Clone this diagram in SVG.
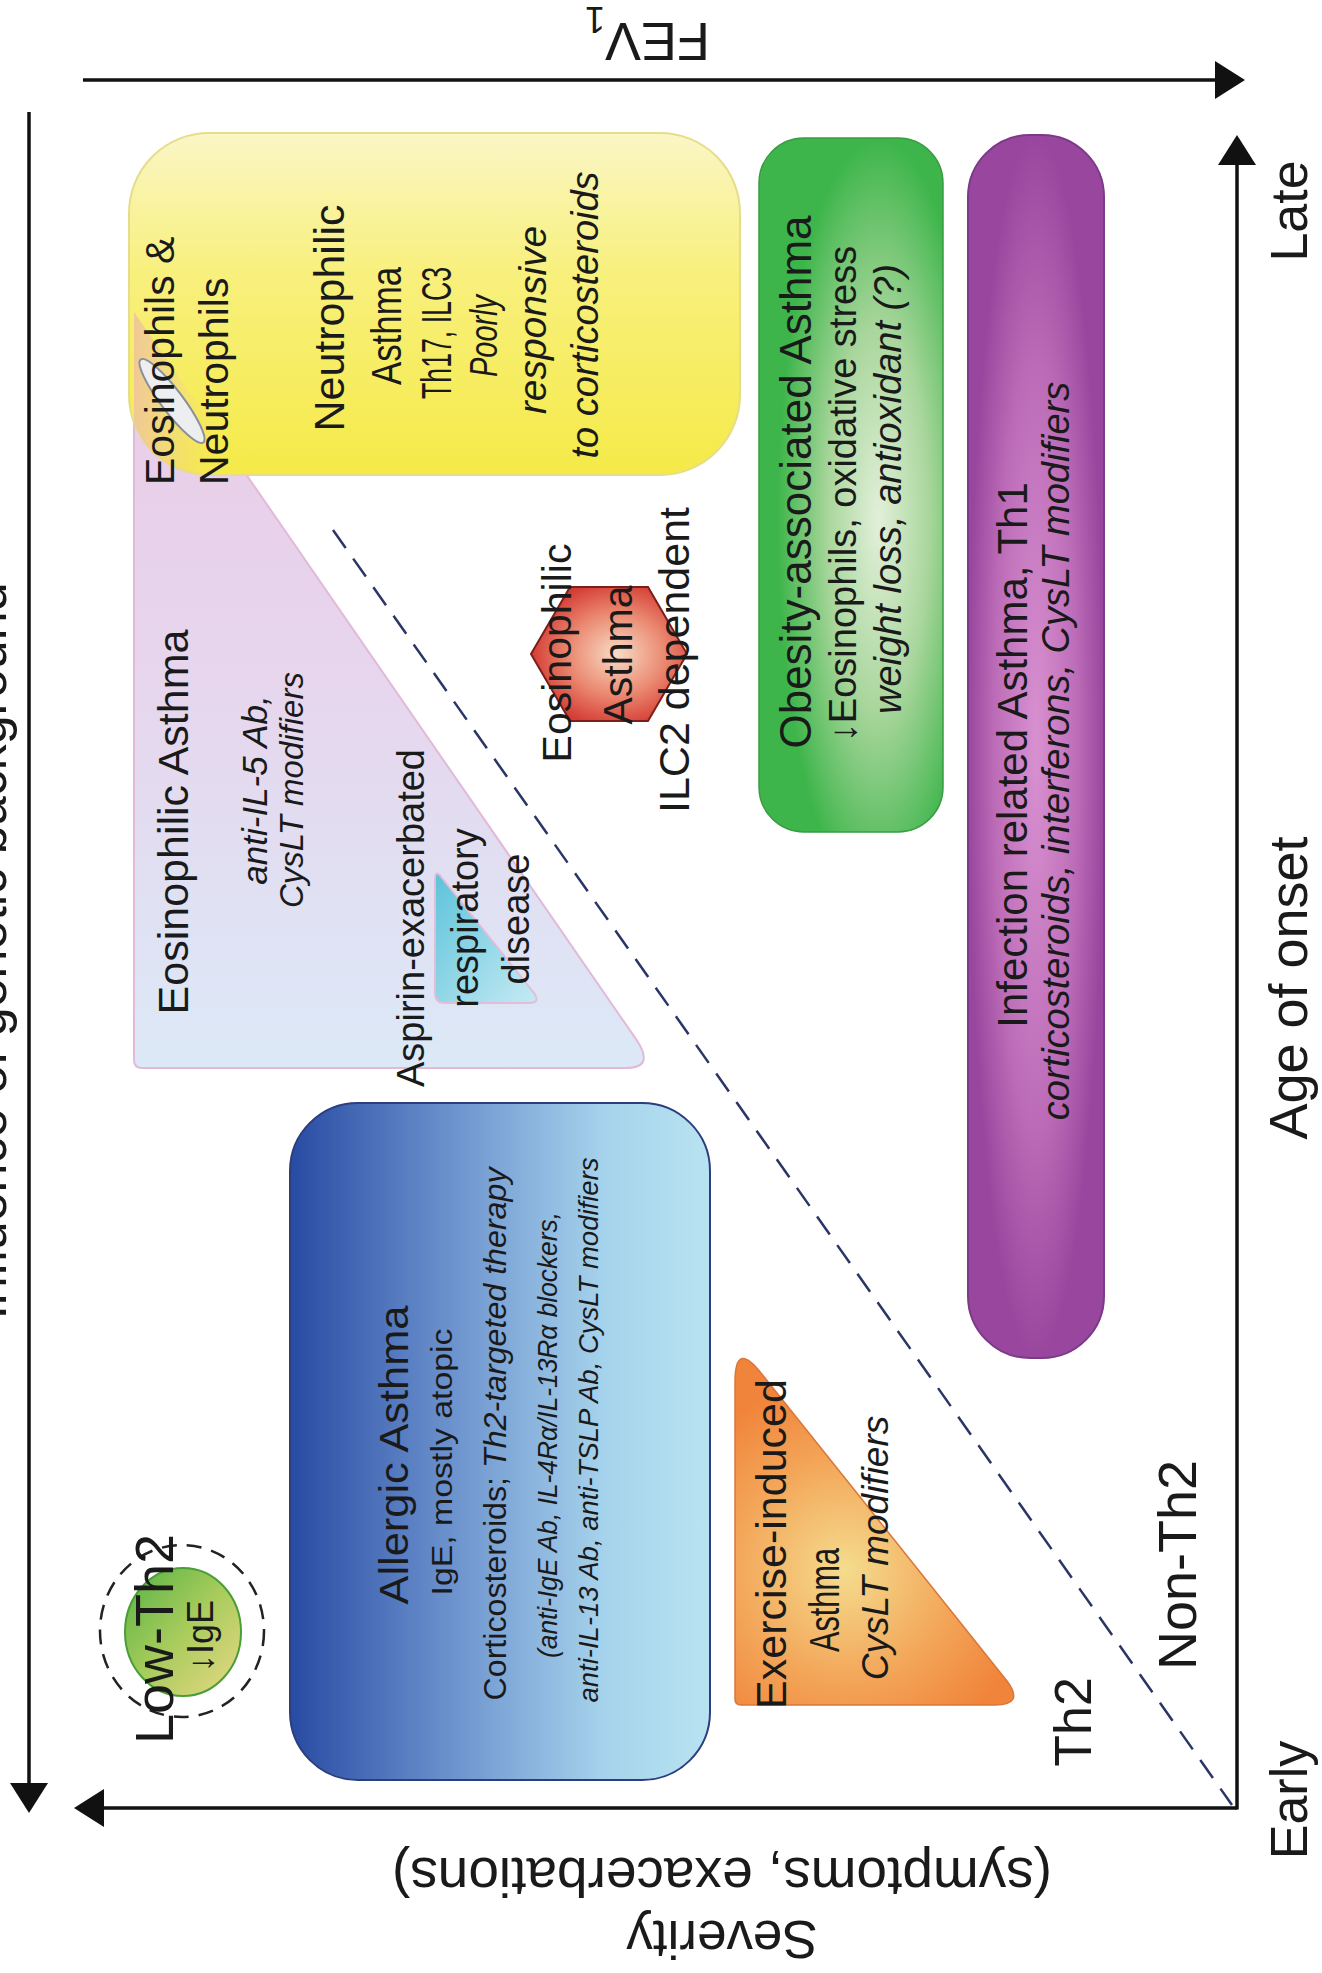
<svg xmlns="http://www.w3.org/2000/svg" width="1322" height="1973" viewBox="0 0 1322 1973">
<style>
text{font-family:"Liberation Sans",Arial,Helvetica,sans-serif;fill:#1a1a1a;text-anchor:middle}
.i{font-style:italic}
.ax{stroke:#111;stroke-width:3.5;fill:none}
</style>
<defs>
<marker id="ah" markerUnits="userSpaceOnUse" markerWidth="30" markerHeight="38" viewBox="0 0 30 38" refX="24" refY="19" orient="auto">
<path d="M0,0 L30,19 L0,38 Z" fill="#111"/>
</marker>
<linearGradient id="gYel" x1="0" y1="0" x2="0" y2="1">
<stop offset="0" stop-color="#faf6c6"/><stop offset="0.4" stop-color="#f8f07e"/><stop offset="1" stop-color="#f5ea48"/>
</linearGradient>
<linearGradient id="gPink" x1="0" y1="0" x2="0" y2="1">
<stop offset="0" stop-color="#ebcbe6"/><stop offset="0.5" stop-color="#e6d6ee"/><stop offset="1" stop-color="#dce9f7"/>
</linearGradient>
<linearGradient id="gPeach" gradientUnits="userSpaceOnUse" x1="131" y1="0" x2="215" y2="0">
<stop offset="0" stop-color="#efc49c" stop-opacity="0.95"/><stop offset="1" stop-color="#f3d88c" stop-opacity="0"/>
</linearGradient>
<linearGradient id="gCyan" x1="0" y1="0" x2="1" y2="1">
<stop offset="0" stop-color="#5cc3da"/><stop offset="1" stop-color="#c6eaf4"/>
</linearGradient>
<linearGradient id="gBlue" x1="0" y1="0" x2="1" y2="0">
<stop offset="0" stop-color="#284ba3"/><stop offset="0.4" stop-color="#6f95cf"/><stop offset="0.75" stop-color="#a6d3ec"/><stop offset="1" stop-color="#b8e3f1"/>
</linearGradient>
<radialGradient id="gGreen" cx="0.65" cy="0.55" r="0.55">
<stop offset="0" stop-color="#e2f0da"/><stop offset="0.5" stop-color="#a9d69c"/><stop offset="1" stop-color="#3db54a"/>
</radialGradient>
<radialGradient id="gPurp" cx="0.5" cy="0.5" r="0.5">
<stop offset="0" stop-color="#d891d0"/><stop offset="0.6" stop-color="#bd6db8"/><stop offset="1" stop-color="#99469e"/>
</radialGradient>
<radialGradient id="gHex" cx="0.55" cy="0.5" r="0.55">
<stop offset="0" stop-color="#f8dcc6"/><stop offset="0.55" stop-color="#eb8a72"/><stop offset="1" stop-color="#d43c35"/>
</radialGradient>
<radialGradient id="gOr" gradientUnits="userSpaceOnUse" cx="845" cy="1570" r="190">
<stop offset="0" stop-color="#f5dc8e"/><stop offset="0.6" stop-color="#f3a457"/><stop offset="1" stop-color="#f0843a"/>
</radialGradient>
<linearGradient id="gLow" x1="0" y1="0" x2="1" y2="1">
<stop offset="0" stop-color="#55b244"/><stop offset="0.5" stop-color="#a8cc5c"/><stop offset="1" stop-color="#ead886"/>
</linearGradient>
<clipPath id="clipYel"><rect x="129" y="133" width="611" height="342" rx="80"/></clipPath>
</defs>

<rect width="1322" height="1973" fill="#fff"/>

<g id="axes">
<line class="ax" x1="83" y1="80" x2="1239" y2="80" marker-end="url(#ah)"/>
<line class="ax" x1="29" y1="112" x2="29" y2="1807" marker-end="url(#ah)"/>
<line class="ax" x1="1237" y1="1808" x2="80" y2="1808" marker-end="url(#ah)"/>
<line class="ax" x1="1237" y1="1809.5" x2="1237" y2="141" marker-end="url(#ah)"/>
<text transform="translate(710,23) rotate(180)" font-size="54" style="text-anchor:start">FEV<tspan font-size="36" dy="16">1</tspan></text>
<text transform="translate(6,951) rotate(-90)" font-size="52">Influence of genetic background</text>
<text transform="translate(722,1858) rotate(180)" font-size="55">(symptoms, exacerbations)</text>
<text transform="translate(722,1921) rotate(180)" font-size="53">Severity</text>
<text transform="translate(1307,211) rotate(-90)" font-size="52">Late</text>
<text transform="translate(1307,988) rotate(-90)" font-size="54">Age of onset</text>
<text transform="translate(1307,1800) rotate(-90)" font-size="52">Early</text>
</g>

<g id="eosinophilic-asthma">
<path d="M134,312 L134,1060 Q134,1068 142,1068 L626,1068 Q656,1068 635.5,1038.4 Z" fill="url(#gPink)" stroke="#e2b9d8" stroke-width="2"/>
<text transform="translate(188,822) rotate(-90)" font-size="43">Eosinophilic Asthma</text>
<text class="i" transform="translate(267,790) rotate(-90)" font-size="35">anti-IL-5 Ab,</text>
<text class="i" transform="translate(303,790) rotate(-90)" font-size="33">CysLT modifiers</text>
</g>

<g id="aspirin">
<path d="M435,880 Q435,868 442,878 L534,993 Q541,1003 529,1003 L445,1003 Q435,1003 435,993 Z" fill="url(#gCyan)" stroke="#e4bcd8" stroke-width="2"/>
<text transform="translate(424,918) rotate(-90)" font-size="38">Aspirin-exacerbated</text>
<text transform="translate(478,918) rotate(-90)" font-size="38">respiratory</text>
<text transform="translate(529,919) rotate(-90)" font-size="38">disease</text>
</g>

<g id="neutrophilic-asthma">
<rect x="129" y="133" width="611" height="342" rx="80" fill="url(#gYel)" stroke="#e6dd8a" stroke-width="2"/>
<path d="M134,312 L134,1068 L656,1068 Z" clip-path="url(#clipYel)" fill="url(#gPeach)"/>
<ellipse cx="172" cy="401" rx="52" ry="11" transform="rotate(53 172 401)" fill="#eceef0" stroke="#8a8f98" stroke-width="2"/>
<text transform="translate(344,318) rotate(-90)" font-size="43">Neutrophilic</text>
<text transform="translate(401,326) rotate(-90)" font-size="42" textLength="118" lengthAdjust="spacingAndGlyphs">Asthma</text>
<text transform="translate(451,333) rotate(-90)" font-size="42" textLength="132" lengthAdjust="spacingAndGlyphs">Th17, ILC3</text>
<text class="i" transform="translate(497,336) rotate(-90)" font-size="38" textLength="82" lengthAdjust="spacingAndGlyphs">Poorly</text>
<text class="i" transform="translate(546,320) rotate(-90)" font-size="39">responsive</text>
<text class="i" transform="translate(598,315) rotate(-90)" font-size="38">to corticosteroids</text>
</g>

<g id="eos-neut-label">
<text transform="translate(174,485) rotate(-90)" font-size="41" style="text-anchor:start">Eosinophils &amp;</text>
<text transform="translate(228,485) rotate(-90)" font-size="41" style="text-anchor:start">Neutrophils</text>
</g>

<g id="connectors">
<line x1="333" y1="530" x2="1232" y2="1805" stroke="#2b3566" stroke-width="2.5" stroke-dasharray="22 13"/>
</g>

<g id="eosinophilic-ilc2">
<polygon points="531,654 570,587 648,587 687,654 648,721 570,721" fill="url(#gHex)" stroke="#7a1f1a" stroke-width="2"/>
<text transform="translate(571,653) rotate(-90)" font-size="41">Eosinophilic</text>
<text transform="translate(632,655) rotate(-90)" font-size="41">Asthma</text>
<text transform="translate(689,660) rotate(-90)" font-size="43">ILC2 dependent</text>
</g>

<g id="obesity-asthma">
<rect x="759" y="138" width="184" height="694" rx="45" fill="url(#gGreen)" stroke="#3a9c44" stroke-width="1.5"/>
<text transform="translate(811,482) rotate(-90)" font-size="44">Obesity-associated Asthma</text>
<text transform="translate(856,494) rotate(-90)" font-size="38">↓Eosinophils, oxidative stress</text>
<text class="i" transform="translate(901,489) rotate(-90)" font-size="38">weight loss, antioxidant (?)</text>
</g>

<g id="infection-asthma">
<rect x="968" y="135" width="136" height="1223" rx="62" fill="url(#gPurp)" stroke="#7b3a88" stroke-width="2"/>
<text transform="translate(1027,755) rotate(-90)" font-size="42">Infection related Asthma, Th1</text>
<text class="i" transform="translate(1069,751) rotate(-90)" font-size="38">corticosteroids, interferons, CysLT modifiers</text>
</g>

<g id="allergic-asthma">
<rect x="290" y="1103" width="420" height="677" rx="68" fill="url(#gBlue)" stroke="#2d3e7e" stroke-width="2"/>
<text transform="translate(408,1455) rotate(-90)" font-size="41" textLength="299" lengthAdjust="spacingAndGlyphs">Allergic Asthma</text>
<text transform="translate(452,1462) rotate(-90)" font-size="30" textLength="267" lengthAdjust="spacingAndGlyphs">IgE, mostly atopic</text>
<text transform="translate(506,1434) rotate(-90)" font-size="32" textLength="533" lengthAdjust="spacingAndGlyphs">Corticosteroids; <tspan class="i">Th2-targeted therapy</tspan></text>
<text class="i" transform="translate(557,1435) rotate(-90)" font-size="27" textLength="446" lengthAdjust="spacingAndGlyphs">(anti-IgE Ab, IL-4Rα/IL-13Rα blockers,</text>
<text class="i" transform="translate(598,1430) rotate(-90)" font-size="27" textLength="545" lengthAdjust="spacingAndGlyphs">anti-IL-13 Ab, anti-TSLP Ab, CysLT modifiers</text>
</g>

<g id="low-th2">
<ellipse cx="182" cy="1631" rx="82" ry="86" fill="none" stroke="#222" stroke-width="2.5" stroke-dasharray="15 10"/>
<ellipse cx="183" cy="1632" rx="58" ry="64" fill="url(#gLow)" stroke="#4a9e38" stroke-width="2"/>
<text transform="translate(173,1639) rotate(-90)" font-size="54">Low-Th2</text>
<text transform="translate(213,1636) rotate(-90)" font-size="36">↓IgE</text>
</g>

<g id="exercise-asthma">
<path d="M735,1382 Q735,1340 761,1373 L1007,1681 Q1025,1705 995,1705 L741,1705 Q735,1705 735,1699 Z" fill="url(#gOr)" stroke="#d9773a" stroke-width="1.5"/>
<text transform="translate(786,1544) rotate(-90)" font-size="43">Exercise-induced</text>
<text transform="translate(839,1600) rotate(-90)" font-size="42" textLength="104" lengthAdjust="spacingAndGlyphs">Asthma</text>
<text class="i" transform="translate(888,1548) rotate(-90)" font-size="37">CysLT modifiers</text>
</g>

<g id="th2-labels">
<text transform="translate(1091,1722) rotate(-90)" font-size="52">Th2</text>
<text transform="translate(1196,1565) rotate(-90)" font-size="54">Non-Th2</text>
</g>
</svg>
